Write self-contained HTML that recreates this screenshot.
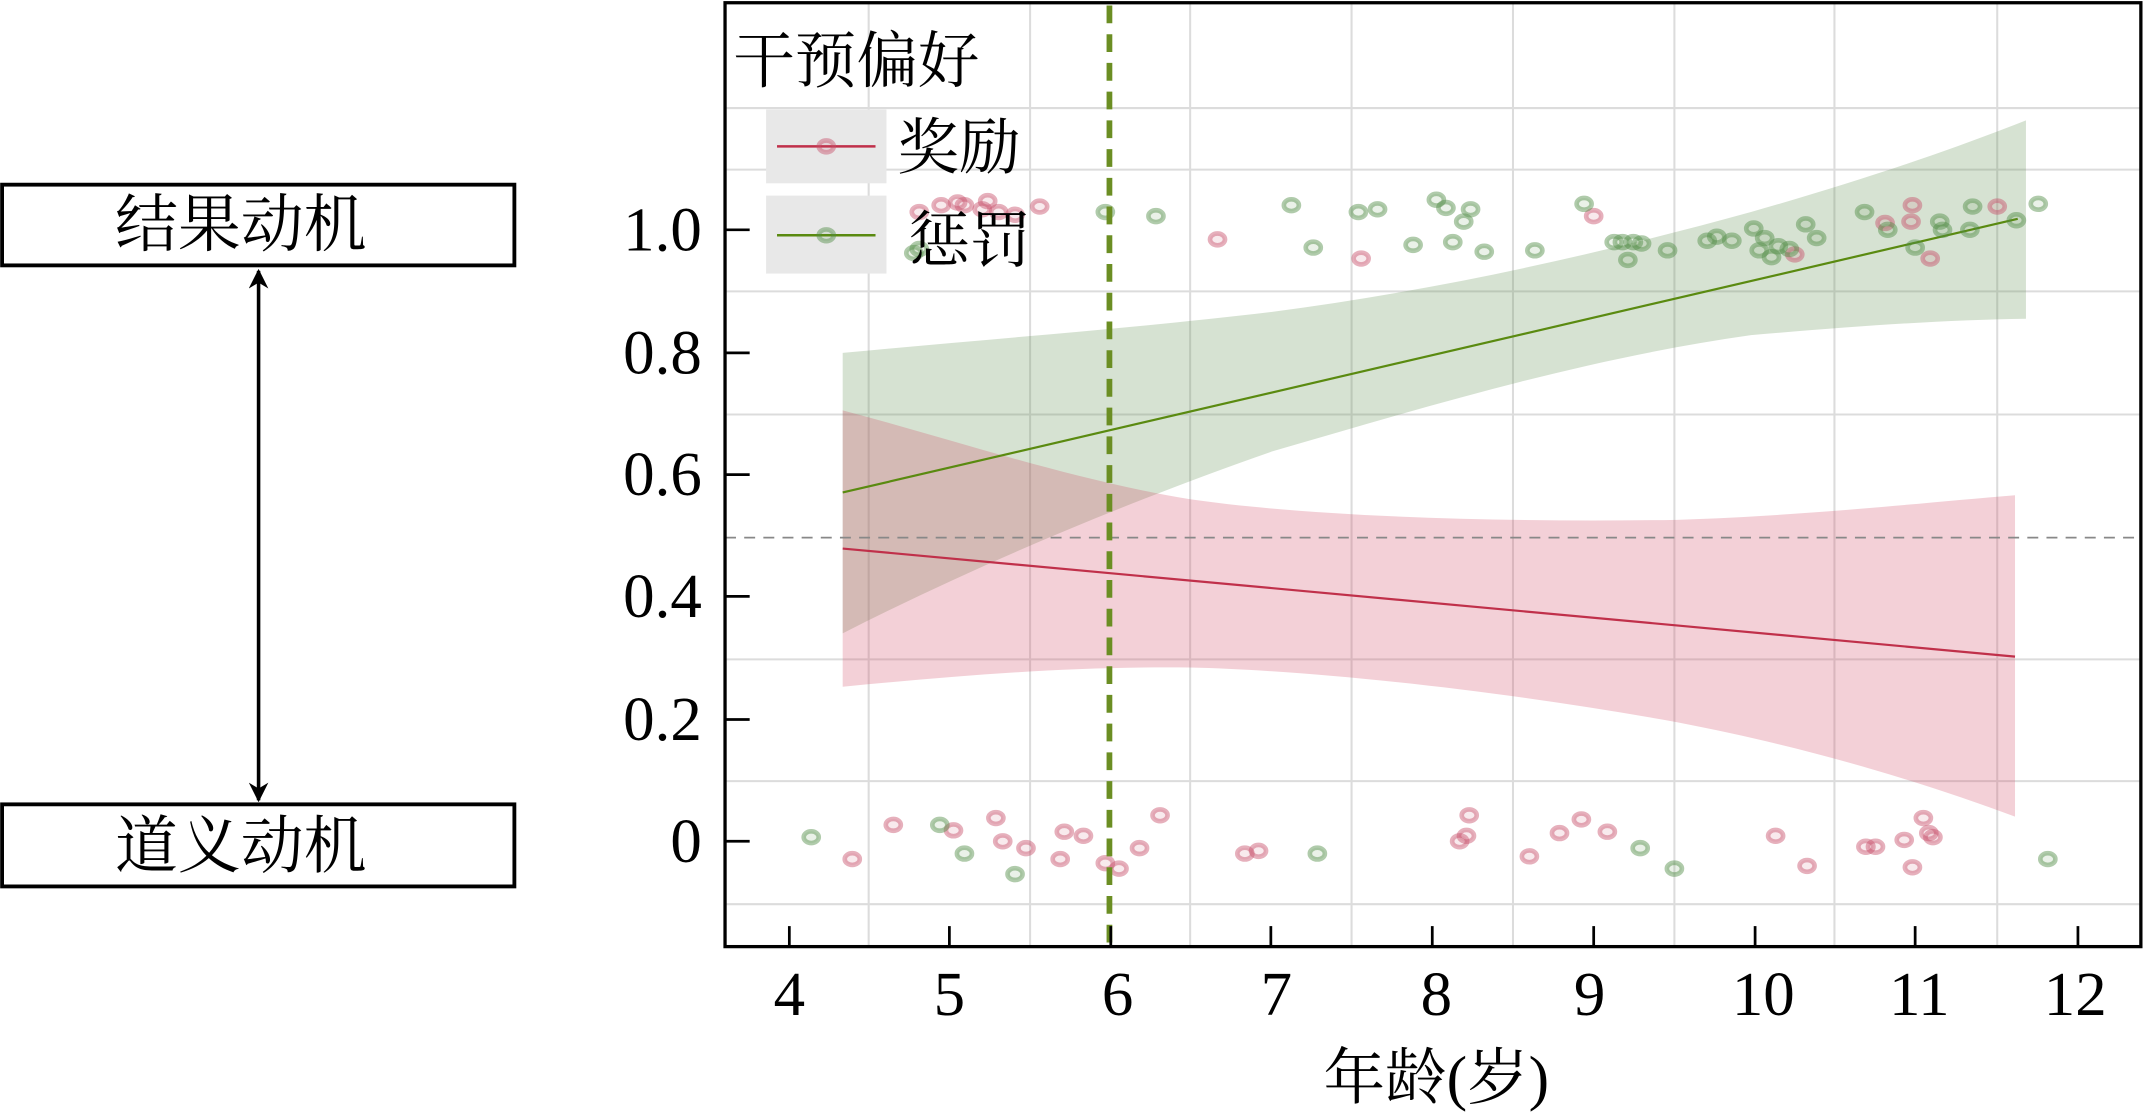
<!DOCTYPE html>
<html><head><meta charset="utf-8"><style>
html,body{margin:0;padding:0;background:#fff;}
svg{display:block;}
text{font-family:"Liberation Serif","Noto Serif CJK SC","Noto Sans CJK SC",serif;fill:#000;}
</style></head><body>
<svg width="2145" height="1112" viewBox="0 0 1568 812.9" xmlns="http://www.w3.org/2000/svg">
<defs>
<marker id="ah" viewBox="0 0 10 10" refX="9" refY="5" markerWidth="5.5" markerHeight="5.5" orient="auto-start-reverse">
<path d="M0,0 L10,5 L0,10 L3,5 z" fill="#000"/>
</marker>
</defs>
<!-- left boxes -->
<rect x="1.5" y="135" width="374.5" height="59" fill="none" stroke="#000" stroke-width="2.8"/>
<text x="176" y="180" font-size="46" text-anchor="middle">结果动机</text>
<rect x="1.5" y="588" width="374.5" height="60" fill="none" stroke="#000" stroke-width="2.8"/>
<text x="176" y="634" font-size="46" text-anchor="middle">道义动机</text>
<line x1="189" y1="198" x2="189" y2="585" stroke="#000" stroke-width="2.6" marker-start="url(#ah)" marker-end="url(#ah)"/>

<!-- grid -->
<g stroke="#dcdcdc" stroke-width="1.5">
<line x1="635" y1="2" x2="635" y2="692"/><line x1="753" y1="2" x2="753" y2="692"/>
<line x1="870" y1="2" x2="870" y2="692"/><line x1="988" y1="2" x2="988" y2="692"/>
<line x1="1106" y1="2" x2="1106" y2="692"/><line x1="1224" y1="2" x2="1224" y2="692"/>
<line x1="1341" y1="2" x2="1341" y2="692"/><line x1="1460" y1="2" x2="1460" y2="692"/>
<line x1="530" y1="79" x2="1565" y2="79"/><line x1="530" y1="124" x2="1565" y2="124"/>
<line x1="530" y1="213" x2="1565" y2="213"/><line x1="530" y1="303" x2="1565" y2="303"/>
<line x1="530" y1="482" x2="1565" y2="482"/><line x1="530" y1="571" x2="1565" y2="571"/>
<line x1="530" y1="661" x2="1565" y2="661"/>
</g>

<!-- bands -->
<path fill="#5b8c4a" fill-opacity="0.25" d="M616,258 C720,248 830,240 930,228 C1050,212 1160,188 1280,155 C1360,132 1420,112 1481,88 L1481,233 C1420,234 1360,238 1280,245 C1160,262 1050,295 930,330 C830,365 720,410 616,463 Z"/>
<path fill="#d0455f" fill-opacity="0.25" d="M616,300 C700,322 780,350 870,365 C960,378 1100,382 1226,380 C1320,377 1400,368 1473,362 L1473,597 C1400,570 1320,546 1226,528 C1100,505 960,490 870,488 C780,487 700,494 616,502 Z"/>
<line x1="616" y1="360" x2="1475" y2="160" stroke="#5a8a10" stroke-width="1.6"/>
<line x1="616" y1="401" x2="1473" y2="480" stroke="#c0304a" stroke-width="1.6"/>

<!-- 0.5 dashed -->
<line x1="530" y1="393" x2="1565" y2="393" stroke="#888" stroke-width="1.3" stroke-dasharray="8,6"/>

<!-- points -->
<g fill="#c8506a" fill-opacity="0.12" stroke="#c8506a" stroke-opacity="0.45" stroke-width="3.4">
<ellipse cx="672" cy="155" rx="5.5" ry="4.3"/><ellipse cx="688" cy="150" rx="5.5" ry="4.3"/><ellipse cx="700" cy="148" rx="5.5" ry="4.3"/><ellipse cx="705" cy="150" rx="5.5" ry="4.3"/><ellipse cx="722" cy="147" rx="5.5" ry="4.3"/><ellipse cx="730" cy="155" rx="5.5" ry="4.3"/><ellipse cx="760" cy="151" rx="5.5" ry="4.3"/><ellipse cx="718" cy="153" rx="5.5" ry="4.3"/><ellipse cx="742" cy="157" rx="5.5" ry="4.3"/>
<ellipse cx="890" cy="175" rx="5.5" ry="4.3"/><ellipse cx="995" cy="189" rx="5.5" ry="4.3"/><ellipse cx="1165" cy="158" rx="5.5" ry="4.3"/><ellipse cx="1312" cy="186" rx="5.5" ry="4.3"/><ellipse cx="1378" cy="163" rx="5.5" ry="4.3"/><ellipse cx="1397" cy="162" rx="5.5" ry="4.3"/><ellipse cx="1398" cy="150" rx="5.5" ry="4.3"/><ellipse cx="1411" cy="189" rx="5.5" ry="4.3"/><ellipse cx="1460" cy="151" rx="5.5" ry="4.3"/>
<ellipse cx="623" cy="628" rx="5.5" ry="4.3"/><ellipse cx="653" cy="603" rx="5.5" ry="4.3"/><ellipse cx="697" cy="607" rx="5.5" ry="4.3"/><ellipse cx="728" cy="598" rx="5.5" ry="4.3"/><ellipse cx="733" cy="615" rx="5.5" ry="4.3"/><ellipse cx="750" cy="620" rx="5.5" ry="4.3"/><ellipse cx="775" cy="628" rx="5.5" ry="4.3"/><ellipse cx="778" cy="608" rx="5.5" ry="4.3"/><ellipse cx="792" cy="611" rx="5.5" ry="4.3"/><ellipse cx="808" cy="631" rx="5.5" ry="4.3"/><ellipse cx="818" cy="635" rx="5.5" ry="4.3"/><ellipse cx="833" cy="620" rx="5.5" ry="4.3"/><ellipse cx="848" cy="596" rx="5.5" ry="4.3"/><ellipse cx="910" cy="624" rx="5.5" ry="4.3"/><ellipse cx="920" cy="622" rx="5.5" ry="4.3"/><ellipse cx="1067" cy="615" rx="5.5" ry="4.3"/><ellipse cx="1072" cy="611" rx="5.5" ry="4.3"/><ellipse cx="1074" cy="596" rx="5.5" ry="4.3"/><ellipse cx="1118" cy="626" rx="5.5" ry="4.3"/><ellipse cx="1140" cy="609" rx="5.5" ry="4.3"/><ellipse cx="1156" cy="599" rx="5.5" ry="4.3"/><ellipse cx="1175" cy="608" rx="5.5" ry="4.3"/><ellipse cx="1298" cy="611" rx="5.5" ry="4.3"/><ellipse cx="1321" cy="633" rx="5.5" ry="4.3"/><ellipse cx="1364" cy="619" rx="5.5" ry="4.3"/><ellipse cx="1371" cy="619" rx="5.5" ry="4.3"/><ellipse cx="1392" cy="614" rx="5.5" ry="4.3"/><ellipse cx="1398" cy="634" rx="5.5" ry="4.3"/><ellipse cx="1406" cy="598" rx="5.5" ry="4.3"/><ellipse cx="1410" cy="609" rx="5.5" ry="4.3"/><ellipse cx="1413" cy="612" rx="5.5" ry="4.3"/>
</g>
<g fill="#4f8c45" fill-opacity="0.12" stroke="#4f8c45" stroke-opacity="0.45" stroke-width="3.4">
<ellipse cx="668" cy="185" rx="5.5" ry="4.3"/><ellipse cx="672" cy="182" rx="5.5" ry="4.3"/><ellipse cx="808" cy="155" rx="5.5" ry="4.3"/><ellipse cx="845" cy="158" rx="5.5" ry="4.3"/><ellipse cx="944" cy="150" rx="5.5" ry="4.3"/><ellipse cx="960" cy="181" rx="5.5" ry="4.3"/><ellipse cx="993" cy="155" rx="5.5" ry="4.3"/><ellipse cx="1007" cy="153" rx="5.5" ry="4.3"/><ellipse cx="1033" cy="179" rx="5.5" ry="4.3"/><ellipse cx="1050" cy="146" rx="5.5" ry="4.3"/><ellipse cx="1057" cy="152" rx="5.5" ry="4.3"/><ellipse cx="1062" cy="177" rx="5.5" ry="4.3"/><ellipse cx="1070" cy="162" rx="5.5" ry="4.3"/><ellipse cx="1075" cy="153" rx="5.5" ry="4.3"/><ellipse cx="1085" cy="184" rx="5.5" ry="4.3"/><ellipse cx="1122" cy="183" rx="5.5" ry="4.3"/><ellipse cx="1158" cy="149" rx="5.5" ry="4.3"/><ellipse cx="1180" cy="177" rx="5.5" ry="4.3"/><ellipse cx="1186" cy="177" rx="5.5" ry="4.3"/><ellipse cx="1190" cy="190" rx="5.5" ry="4.3"/><ellipse cx="1194" cy="177" rx="5.5" ry="4.3"/><ellipse cx="1200" cy="178" rx="5.5" ry="4.3"/><ellipse cx="1219" cy="183" rx="5.5" ry="4.3"/><ellipse cx="1248" cy="176" rx="5.5" ry="4.3"/><ellipse cx="1255" cy="173" rx="5.5" ry="4.3"/><ellipse cx="1266" cy="176" rx="5.5" ry="4.3"/><ellipse cx="1282" cy="167" rx="5.5" ry="4.3"/><ellipse cx="1286" cy="183" rx="5.5" ry="4.3"/><ellipse cx="1290" cy="174" rx="5.5" ry="4.3"/><ellipse cx="1295" cy="188" rx="5.5" ry="4.3"/><ellipse cx="1300" cy="180" rx="5.5" ry="4.3"/><ellipse cx="1308" cy="182" rx="5.5" ry="4.3"/><ellipse cx="1320" cy="164" rx="5.5" ry="4.3"/><ellipse cx="1328" cy="174" rx="5.5" ry="4.3"/><ellipse cx="1363" cy="155" rx="5.5" ry="4.3"/><ellipse cx="1380" cy="168" rx="5.5" ry="4.3"/><ellipse cx="1400" cy="181" rx="5.5" ry="4.3"/><ellipse cx="1418" cy="162" rx="5.5" ry="4.3"/><ellipse cx="1420" cy="168" rx="5.5" ry="4.3"/><ellipse cx="1440" cy="168" rx="5.5" ry="4.3"/><ellipse cx="1442" cy="151" rx="5.5" ry="4.3"/><ellipse cx="1474" cy="161" rx="5.5" ry="4.3"/><ellipse cx="1490" cy="149" rx="5.5" ry="4.3"/>
<ellipse cx="593" cy="612" rx="5.5" ry="4.3"/><ellipse cx="687" cy="603" rx="5.5" ry="4.3"/><ellipse cx="705" cy="624" rx="5.5" ry="4.3"/><ellipse cx="742" cy="639" rx="5.5" ry="4.3"/><ellipse cx="963" cy="624" rx="5.5" ry="4.3"/><ellipse cx="1199" cy="620" rx="5.5" ry="4.3"/><ellipse cx="1224" cy="635" rx="5.5" ry="4.3"/><ellipse cx="1497" cy="628" rx="5.5" ry="4.3"/>
</g>

<!-- vertical green dashed -->
<line x1="811" y1="4" x2="811" y2="690" stroke="#6b8e23" stroke-width="4.2" stroke-dasharray="13,8"/>

<!-- legend -->
<text x="536" y="60" font-size="45">干预偏好</text>
<rect x="560" y="80" width="88" height="54" fill="#e8e8e8"/>
<rect x="560" y="143" width="88" height="57" fill="#e8e8e8"/>
<line x1="568" y1="107" x2="640" y2="107" stroke="#c0304a" stroke-width="1.8"/>
<ellipse cx="604" cy="107" rx="5.5" ry="4.3" fill="#c8506a" fill-opacity="0.12" stroke="#c8506a" stroke-opacity="0.45" stroke-width="3.4"/>
<line x1="568" y1="172" x2="640" y2="172" stroke="#5a8a10" stroke-width="1.8"/>
<ellipse cx="604" cy="172" rx="5.5" ry="4.3" fill="#4f8c45" fill-opacity="0.12" stroke="#4f8c45" stroke-opacity="0.45" stroke-width="3.4"/>
<text x="656" y="123" font-size="45">奖励</text>
<text x="664" y="191" font-size="45">惩罚</text>

<!-- axes -->
<rect x="530" y="2" width="1035" height="690" fill="none" stroke="#000" stroke-width="2.4"/>
<g stroke="#000" stroke-width="2">
<line x1="577" y1="692" x2="577" y2="677"/><line x1="694" y1="692" x2="694" y2="677"/><line x1="812" y1="692" x2="812" y2="677"/><line x1="929" y1="692" x2="929" y2="677"/><line x1="1047" y1="692" x2="1047" y2="677"/><line x1="1165" y1="692" x2="1165" y2="677"/><line x1="1283" y1="692" x2="1283" y2="677"/><line x1="1400" y1="692" x2="1400" y2="677"/><line x1="1519" y1="692" x2="1519" y2="677"/>
<line x1="530" y1="168" x2="548" y2="168"/><line x1="530" y1="258" x2="548" y2="258"/><line x1="530" y1="347" x2="548" y2="347"/><line x1="530" y1="436" x2="548" y2="436"/><line x1="530" y1="526" x2="548" y2="526"/><line x1="530" y1="615" x2="548" y2="615"/>
</g>
<g font-size="46" text-anchor="end">
<text x="513" y="183">1.0</text><text x="513" y="273">0.8</text><text x="513" y="362">0.6</text><text x="513" y="451">0.4</text><text x="513" y="541">0.2</text><text x="513" y="630">0</text>
</g>
<g font-size="46" text-anchor="middle">
<text x="577" y="742">4</text><text x="694" y="742">5</text><text x="817" y="742">6</text><text x="933" y="742">7</text><text x="1050" y="742">8</text><text x="1162" y="742">9</text><text x="1289" y="742">10</text><text x="1403" y="742">11</text><text x="1517" y="742">12</text>
</g>
<text x="1050" y="803" font-size="45" text-anchor="middle">年龄(岁)</text>
</svg>
</body></html>
